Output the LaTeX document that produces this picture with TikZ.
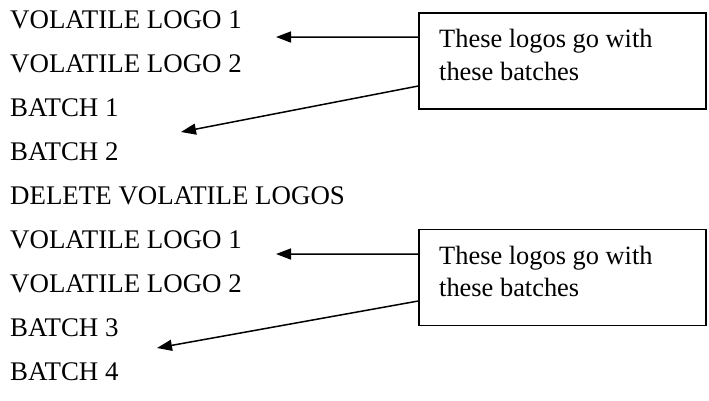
\documentclass[tikz,border=0pt]{standalone}
\usepackage{fontspec}
\setmainfont{Liberation Serif}
\usepackage{tikz}
\usetikzlibrary{arrows.meta}

\tikzset{
    item/.style={inner sep=0pt, anchor=base west, font=\fontsize{27}{33}\selectfont},
    notebox/.style={draw, line width=1.5bp, minimum width=287bp, minimum height=96bp, inner sep=0pt},
    notetext/.style={inner sep=0pt, anchor=north west, align=left, font=\fontsize{26.5}{33}\selectfont},
    pointer/.style={-{Triangle[length=15bp,width=11bp]}, line width=1.5bp}
}

\begin{document}
\begin{tikzpicture}[x=1bp, y=-1bp]
        \useasboundingbox (0,0) rectangle (709,400);

        % list of logos and batches
        \foreach \t [count=\i] in {VOLATILE LOGO 1, VOLATILE LOGO 2, BATCH 1, BATCH 2,
                DELETE VOLATILE LOGOS, VOLATILE LOGO 1, VOLATILE LOGO 2, BATCH 3, BATCH 4}
            \node[item] (l\i) at (10, {28+44*(\i-1)}) {\t};

        % notes
        \node[notebox] (box1) at (562.5, 61) {};
        \node[notetext] (txt1) at (439, 29) {These logos go with\\these batches};

        \node[notebox] (box2) at (562.5, 277.5) {};
        \node[notetext] (txt2) at (439, 245.5) {These logos go with\\these batches};

        % arrow ends
        \coordinate (tip1) at (276, 37);
        \coordinate (tip2) at (181, 132);
        \coordinate (tip3) at (276, 254);
        \coordinate (tip4) at (157, 348);

        % arrows
        \draw[pointer] ([yshift=24bp]box1.west) -- (tip1);
        \draw[pointer] ([yshift=-25bp]box1.west) -- (tip2);
        \draw[pointer] ([yshift=23.5bp]box2.west) -- (tip3);
        \draw[pointer] ([yshift=-23.5bp]box2.west) -- (tip4);
    \end{tikzpicture}
\end{document}
